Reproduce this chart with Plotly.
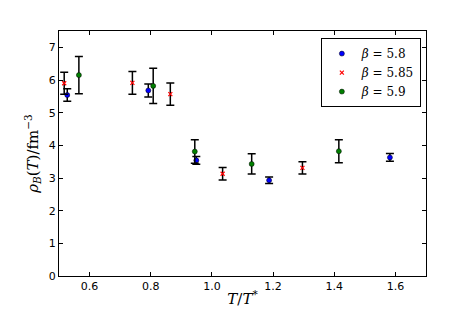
import plotly.graph_objects as go

t_58 = [0.527, 0.792, 0.949, 1.187, 1.582]
rho_58 = [5.54, 5.68, 3.54, 2.93, 3.63]
err_58 = [0.19, 0.20, 0.12, 0.10, 0.12]

t_585 = [0.517, 0.740, 0.864, 1.035, 1.296]
rho_585 = [5.90, 5.91, 5.57, 3.13, 3.31]
err_585 = [0.34, 0.35, 0.34, 0.19, 0.19]

t_59 = [0.565, 0.808, 0.944, 1.130, 1.415]
rho_59 = [6.15, 5.82, 3.81, 3.43, 3.82]
err_59 = [0.57, 0.54, 0.36, 0.31, 0.35]

series = [
    ("<i>β</i> = 5.8", t_58, rho_58, err_58, "#0000ff", "circle", 5),
    ("<i>β</i> = 5.85", t_585, rho_585, err_585, "#ff0000", "x-thin", 4),
    ("<i>β</i> = 5.9", t_59, rho_59, err_59, "#007f00", "circle", 5),
]

fig = go.Figure()
for name, x, y, e, col, sym, sz in series:
    mk = dict(color=col, symbol=sym, size=sz, line=dict(color="black", width=0.5))
    if sym == "x-thin":
        mk = dict(color=col, symbol=sym, size=sz, line=dict(color=col, width=1.2))
    fig.add_trace(go.Scatter(
        x=x, y=y, mode="markers", name=name,
        marker=mk,
        error_y=dict(type="data", array=e, visible=True, color="black",
                     thickness=1.5, width=4),
    ))

axis_common = dict(
    showgrid=False, zeroline=False, showline=True, linecolor="black",
    linewidth=1, mirror="ticks", ticks="inside", ticklen=4,
    tickcolor="black", automargin=False,
    tickfont=dict(family="DejaVu Sans", size=11, color="black"),
)
fig.update_xaxes(range=[0.5, 1.7], tickvals=[0.6, 0.8, 1.0, 1.2, 1.4, 1.6],
                 ticktext=["0.6", "0.8", "1.0", "1.2", "1.4", "1.6"],
                 title=dict(text="<i>T</i>/<i>T</i><sup>*</sup>",
                            font=dict(family="DejaVu Serif", size=15, color="black"),
                            standoff=4),
                 **axis_common)
fig.update_yaxes(range=[0, 7.5], tickvals=[0, 1, 2, 3, 4, 5, 6, 7],
                 title=dict(text="<i>ρ</i><sub><i>B</i></sub>(<i>T</i>)/fm<sup>−3</sup>",
                            font=dict(family="DejaVu Serif", size=15, color="black"),
                            standoff=6),
                 **axis_common)

fig.update_layout(
    width=458, height=300,
    margin=dict(l=51, r=40, t=23, b=32, autoexpand=False),
    paper_bgcolor="white", plot_bgcolor="white",
    showlegend=True,
    legend=dict(x=0.986, y=0.971, xanchor="right", yanchor="top",
                bordercolor="black", borderwidth=1, bgcolor="white",
                font=dict(family="DejaVu Serif", size=12, color="black"),
                itemwidth=30, tracegroupgap=0),
)

fig.write_html("out.html")
